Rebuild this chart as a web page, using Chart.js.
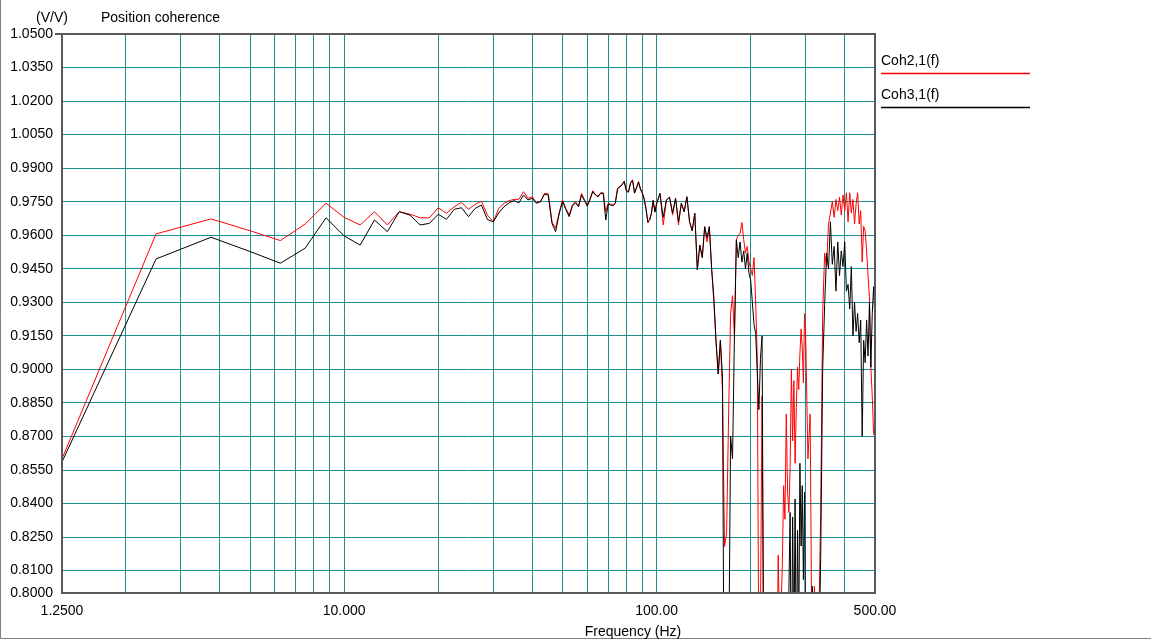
<!DOCTYPE html>
<html>
<head>
<meta charset="utf-8">
<title>Position coherence</title>
<script src="https://cdn.jsdelivr.net/npm/chart.js@4.4.1/dist/chart.umd.min.js"></script>
<style>
  html, body { margin: 0; padding: 0; background: #fff; }
  #wrap { width: 1151px; height: 640px; }
</style>
</head>
<body>
<div id="wrap"><canvas id="cohChart" width="1151" height="640"></canvas></div>
<script>
// frequency bins (Hz)
const freqHz = [
  1.25, 2.5, 3.75, 5, 6.25, 7.5, 8.75, 10, 11.25, 12.5,
  13.75, 15, 16.25, 17.5, 18.75, 20, 21.25, 22.5, 23.75, 25,
  26.25, 27.5, 28.75, 30, 31.25, 32.5, 33.75, 35, 36.25, 37.5,
  38.75, 40, 41.25, 42.5, 43.75, 45, 46.25, 47.5, 48.75, 50,
  51.25, 52.5, 53.75, 55, 56.25, 57.5, 58.75, 60, 61.25, 62.5,
  63.75, 65, 66.25, 67.5, 68.75, 70, 71.25, 72.5, 73.75, 75,
  76.25, 77.5, 78.75, 80, 81.25, 82.5, 83.75, 85, 86.25, 87.5,
  88.75, 90, 91.25, 92.5, 93.75, 95, 96.25, 97.5, 98.75, 100,
  102.5, 105, 107.5, 110, 112.5, 115, 117.5, 120, 122.5, 125,
  127.5, 130, 132.5, 135, 137.5, 140, 142.5, 145, 147.5, 150,
  152.5, 155, 157.5, 160, 162.5, 165, 167.5, 170, 172.5, 175,
  177.5, 180, 182.5, 185, 187.5, 190, 192.5, 195, 197.5, 200,
  202.5, 205, 207.5, 210, 212.5, 215, 217.5, 220, 222.5, 225,
  227.5, 230, 232.5, 235, 237.5, 240, 242.5, 245, 247.5, 250,
  252.5, 255, 257.5, 260, 262.5, 265, 267.5, 270, 272.5, 275,
  277.5, 280, 282.5, 285, 287.5, 290, 292.5, 295, 297.5, 300,
  305, 310, 315, 320, 325, 330, 335, 340, 345, 350,
  355, 360, 365, 370, 375, 380, 385, 390, 395, 400,
  405, 410, 415, 420, 425, 430, 435, 440, 445, 450,
  455, 460, 465, 470, 475, 480, 485, 490, 495, 500
];

// Coh2,1(f) - red
const coh21 = [
  0.8600, 0.9606, 0.9673, 0.9620, 0.9576, 0.9650, 0.9743, 0.9680, 0.9646, 0.9705,
  0.9646, 0.9705, 0.9694, 0.9678, 0.9678, 0.9723, 0.9698, 0.9727, 0.9747, 0.9716,
  0.9738, 0.9752, 0.9690, 0.9660, 0.9720, 0.9743, 0.9755, 0.9760, 0.9761, 0.9795,
  0.9765, 0.9772, 0.9746, 0.9750, 0.9787, 0.9785, 0.9660, 0.9631, 0.9700, 0.9758,
  0.9720, 0.9691, 0.9735, 0.9750, 0.9728, 0.9787, 0.9760, 0.9735, 0.9765, 0.9799,
  0.9780, 0.9775, 0.9790, 0.9790, 0.9705, 0.9743, 0.9738, 0.9735, 0.9745, 0.9810,
  0.9818, 0.9828, 0.9842, 0.9800, 0.9795, 0.9835, 0.9848, 0.9790, 0.9815, 0.9840,
  0.9810, 0.9790, 0.9765, 0.9720, 0.9655, 0.9670, 0.9700, 0.9758, 0.9705, 0.9743,
  0.9787, 0.9646, 0.9758, 0.9770, 0.9690, 0.9765, 0.9646, 0.9743, 0.9705, 0.9772,
  0.9660, 0.9620, 0.9698, 0.9445, 0.9556, 0.9500, 0.9638, 0.9570, 0.9638, 0.9450,
  0.9300, 0.9120, 0.8980, 0.9130, 0.8900, 0.8208, 0.8267, 0.8800, 0.9250, 0.9330,
  0.9140, 0.9580, 0.9600, 0.9608, 0.9657, 0.9580, 0.9520, 0.9550, 0.9480, 0.9450,
  0.9420, 0.9500, 0.9300, 0.9050, 0.7600, 0.7900, 0.8880, 0.7600, 0.7200, 0.7000,
  0.7200, 0.7000, 0.7400, 0.7000, 0.7200, 0.7000, 0.7600, 0.8170, 0.7800, 0.7900,
  0.8120, 0.8480, 0.8330, 0.8800, 0.8450, 0.8360, 0.8560, 0.9000, 0.8680, 0.8950,
  0.8580, 0.8830, 0.9010, 0.8910, 0.9070, 0.9180, 0.9100, 0.8940, 0.9250, 0.9150,
  0.8600, 0.8800, 0.7500, 0.8030, 0.7700, 0.7800, 0.8360, 0.9250, 0.9520, 0.9460,
  0.9650, 0.9700, 0.9750, 0.9680, 0.9760, 0.9710, 0.9770, 0.9690, 0.9780, 0.9710,
  0.9790, 0.9660, 0.9790, 0.9700, 0.9760, 0.9650, 0.9740, 0.9790, 0.9650, 0.9710,
  0.9480, 0.9640, 0.9620, 0.9530, 0.9420, 0.9320, 0.9010, 0.8880, 0.8710, 0.8700
];

// Coh3,1(f) - black
const coh31 = [
  0.8586, 0.9494, 0.9591, 0.9527, 0.9475, 0.9542, 0.9678, 0.9597, 0.9556, 0.9668,
  0.9616, 0.9705, 0.9690, 0.9646, 0.9653, 0.9694, 0.9671, 0.9716, 0.9723, 0.9683,
  0.9720, 0.9735, 0.9670, 0.9660, 0.9700, 0.9728, 0.9745, 0.9755, 0.9745, 0.9780,
  0.9758, 0.9765, 0.9743, 0.9750, 0.9783, 0.9780, 0.9653, 0.9616, 0.9695, 0.9750,
  0.9715, 0.9683, 0.9730, 0.9745, 0.9728, 0.9780, 0.9755, 0.9730, 0.9760, 0.9795,
  0.9780, 0.9772, 0.9788, 0.9786, 0.9668, 0.9740, 0.9735, 0.9732, 0.9742, 0.9808,
  0.9815, 0.9825, 0.9840, 0.9798, 0.9792, 0.9832, 0.9846, 0.9788, 0.9812, 0.9838,
  0.9806, 0.9787, 0.9760, 0.9716, 0.9660, 0.9668, 0.9698, 0.9755, 0.9703, 0.9740,
  0.9787, 0.9680, 0.9758, 0.9770, 0.9700, 0.9765, 0.9660, 0.9743, 0.9705, 0.9772,
  0.9660, 0.9620, 0.9698, 0.9445, 0.9556, 0.9500, 0.9638, 0.9590, 0.9638, 0.9450,
  0.9320, 0.9120, 0.8980, 0.9130, 0.8968, 0.7000, 0.7000, 0.7600, 0.8700, 0.8600,
  0.9160, 0.9580, 0.9500, 0.9570, 0.9480, 0.9530, 0.9450, 0.9520, 0.9430, 0.9400,
  0.9300, 0.9200, 0.9160, 0.8990, 0.8820, 0.9050, 0.9150, 0.7800, 0.7400, 0.7200,
  0.7000, 0.7000, 0.7200, 0.7000, 0.7200, 0.7000, 0.7200, 0.7000, 0.7200, 0.7000,
  0.7300, 0.7200, 0.7400, 0.7200, 0.7600, 0.8000, 0.8360, 0.7500, 0.8340, 0.7700,
  0.8420, 0.7600, 0.8280, 0.7800, 0.8580, 0.8210, 0.8480, 0.8060, 0.8450, 0.7600,
  0.7200, 0.7500, 0.8030, 0.7400, 0.7200, 0.7600, 0.8150, 0.9000, 0.9290, 0.9520,
  0.9450, 0.9660, 0.9470, 0.9550, 0.9350, 0.9570, 0.9420, 0.9530, 0.9460, 0.9570,
  0.9350, 0.9380, 0.9270, 0.9460, 0.9150, 0.9300, 0.9170, 0.9250, 0.9120, 0.9220,
  0.8700, 0.9130, 0.9030, 0.9220, 0.9060, 0.9300, 0.9010, 0.9250, 0.9370, 0.9200
];

const seriesNames = ['Coh2,1(f)', 'Coh3,1(f)'];
const seriesColors = ['#ff0000', '#000000'];

const xTickValues = [1.25, 2, 3, 4, 5, 6, 7, 8, 9, 10, 20, 30, 40, 50, 60, 70, 80, 90, 100, 200, 300, 400, 500];
const xTickLabels = { 1.25: '1.2500', 10: '10.000', 100: '100.00', 500: '500.00' };
const yTickValues = [0.8, 0.81, 0.825, 0.84, 0.855, 0.87, 0.885, 0.9, 0.915, 0.93, 0.945, 0.96, 0.975, 0.99, 1.005, 1.02, 1.035, 1.05];

const FONT = '"Liberation Sans", Arial, sans-serif';
Chart.defaults.font.family = FONT;
Chart.defaults.font.size = 14;
Chart.defaults.color = '#000';

// frame, titles and legend
const decor = {
  id: 'decor',
  afterDraw(chart) {
    const { ctx, chartArea: a } = chart;
    ctx.save();
    ctx.strokeStyle = '#808080';
    ctx.lineWidth = 1;
    ctx.beginPath();
    ctx.moveTo(0.5, 0); ctx.lineTo(0.5, 638.5); ctx.lineTo(1151, 638.5);
    ctx.stroke();

    ctx.strokeStyle = '#5a5a5a';
    ctx.lineWidth = 2;
    ctx.strokeRect(a.left, a.top, a.right - a.left, a.bottom - a.top);
    ctx.beginPath(); ctx.moveTo(a.left - 7, a.top); ctx.lineTo(a.left, a.top); ctx.stroke();

    ctx.fillStyle = '#000';
    ctx.font = '14px ' + FONT;
    ctx.textBaseline = 'middle';
    ctx.textAlign = 'center';
    ctx.fillText('(V/V)', 52, 18);
    ctx.fillText('Frequency (Hz)', 633, 632);
    ctx.textAlign = 'left';
    ctx.fillText('Position coherence', 101, 18);

    chart.data.datasets.forEach((ds, i) => {
      const y = 61 + i * 34;
      ctx.fillStyle = '#000';
      ctx.fillText(ds.label, 881, y);
      ctx.strokeStyle = ds.borderColor;
      ctx.lineWidth = 1.5;
      ctx.beginPath(); ctx.moveTo(881, y + 12.5); ctx.lineTo(1030, y + 12.5); ctx.stroke();
    });
    ctx.restore();
  }
};

const toPoints = vals => freqHz.map((f, i) => ({ x: f, y: vals[i] }));

new Chart(document.getElementById('cohChart'), {
  type: 'line',
  data: {
    datasets: [
      { label: seriesNames[0], data: toPoints(coh21), borderColor: seriesColors[0], order: 2 },
      { label: seriesNames[1], data: toPoints(coh31), borderColor: seriesColors[1], order: 1 }
    ]
  },
  options: {
    responsive: false,
    animation: false,
    devicePixelRatio: 1,
    layout: { padding: { left: 0, top: 34, right: 276, bottom: 0 } },
    elements: {
      line: { borderWidth: 1, tension: 0, fill: false },
      point: { radius: 0 }
    },
    plugins: { legend: { display: false }, tooltip: { enabled: false } },
    scales: {
      x: {
        type: 'logarithmic',
        min: 1.25,
        max: 500,
        afterBuildTicks: s => { s.ticks = xTickValues.map(v => ({ value: v })); },
        afterFit: s => { s.height = 47; },
        ticks: {
          autoSkip: false,
          maxRotation: 0,
          padding: 10,
          callback: v => xTickLabels[v] || ''
        },
        grid: { color: '#1b8f8f', lineWidth: 1, drawTicks: false, tickLength: 0 },
        border: { display: false }
      },
      y: {
        min: 0.8,
        max: 1.05,
        afterBuildTicks: s => { s.ticks = yTickValues.map(v => ({ value: v })); },
        afterFit: s => { s.width = 62; },
        ticks: {
          autoSkip: false,
          padding: 9,
          callback: v => Number(v).toFixed(4)
        },
        grid: { color: '#1b8f8f', lineWidth: 1, drawTicks: false, tickLength: 0 },
        border: { display: false }
      }
    }
  },
  plugins: [decor]
});
</script>
</body>
</html>
